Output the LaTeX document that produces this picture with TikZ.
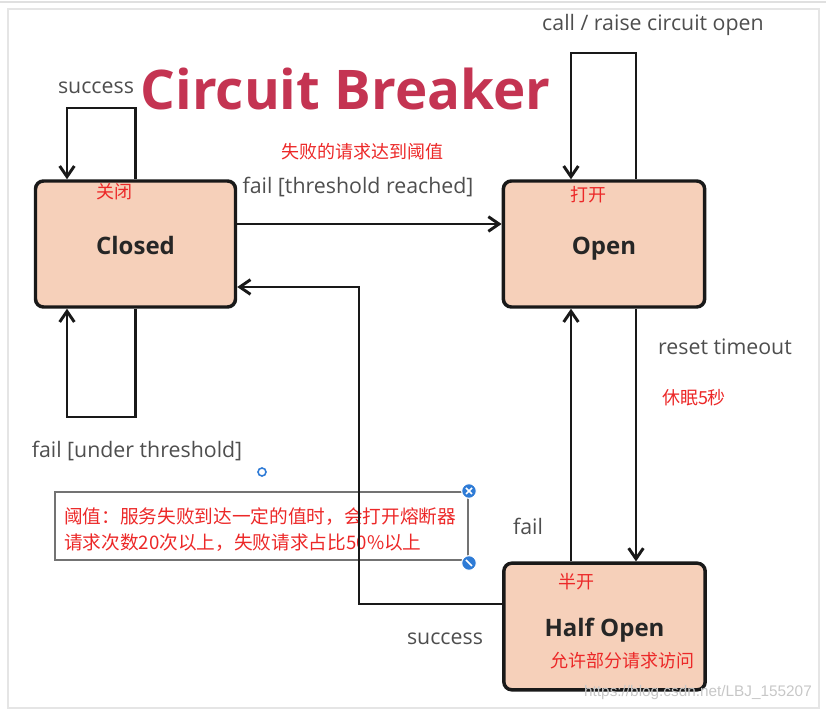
\documentclass[tikz,border=0pt]{standalone}
\usepackage{fontspec}
\setmainfont{Open Sans}
\newfontfamily\cjk{Noto Sans CJK SC}
\newfontfamily\wmfont{Liberation Sans}
\usetikzlibrary{arrows.meta}
\definecolor{peach}{RGB}{246,208,186}
\definecolor{titlered}{RGB}{196,52,82}
\definecolor{cnred}{RGB}{236,40,40}
\definecolor{labgray}{RGB}{78,78,78}
\definecolor{uiblue}{RGB}{46,123,214}
\tikzset{
  statebox/.style={draw=black!90, fill=peach, line width=2.6pt, rounded corners=6pt,
    minimum width=150pt, minimum height=94.5pt, inner sep=0pt, text height=15.5pt, text depth=0pt,
    font=\fontsize{18}{20}\selectfont\bfseries, text=black!85},
  conn/.style={line width=2.2pt, black!90},
  arr/.style={conn, -{Straight Barb[length=8pt,width=11pt]}},
  lab/.style={anchor=base, inner sep=0pt, text=labgray, font=\fontsize{16}{18}\selectfont},
  cnlab/.style={inner sep=0pt, text=cnred, font=\cjk\fontsize{13.5}{16}\selectfont},
}
\begin{document}
\begin{tikzpicture}[x=0.75pt,y=-0.75pt]
\useasboundingbox (0,0) rectangle (826,712);
% frame
\draw[line width=1.5pt, black!12] (0,2) -- (826,2);
\draw[line width=0.8pt, black!10] (8,9) rectangle (819,708);
% title
\node[anchor=base, inner sep=0pt, text=titlered, font=\fontsize{41}{44}\selectfont\bfseries] (title) at (345.5,110) {Circuit Breaker};
% note box
\node[draw=black!55, line width=1pt, minimum width=309.75pt, minimum height=51pt, inner sep=0pt] (note) at (261.5,526) {};
\node[anchor=west, inner sep=0pt, align=left, text=cnred, font=\cjk\fontsize{14}{19}\selectfont] (notetext) at (64,529.5)
  {阈值：服务失败到达一定的值时，会打开熔断器\\请求次数20次以上，失败请求占比50\%以上};
% states
\node[statebox] (closed) at (135.5,244) {Closed};
\node[statebox, minimum width=151pt] (open) at (604,244) {Open};
\node[statebox, minimum width=151pt, minimum height=95pt] (half) at (604.5,626.5) {Half Open};
% helper coordinates
\coordinate (lx) at (67,0);
\coordinate (ytop) at (0,108);
\coordinate (ybot) at (0,417);
\coordinate (y1) at (0,224);
\coordinate (xa) at (571,0);
\coordinate (xb) at (636,0);
\coordinate (ycall) at (0,53);
\coordinate (y3) at (0,604);
\coordinate (c1) at (359,287);
% connectors
\draw[arr] (closed.north) |- (lx |- ytop) -- (closed.north -| lx);
\draw[arr] (closed.south) |- (lx |- ybot) -- (closed.south -| lx);
\draw[arr] (closed.east |- y1) -- (open.west |- y1);
\draw[arr] (open.north -| xb) |- (xa |- ycall) -- (open.north -| xa);
\draw[arr] (open.south -| xb) -- (half.north -| xb);
\draw[arr] (half.north -| xa) -- (open.south -| xa);
\draw[arr] (half.west |- y3) -| (c1) -- (closed.east |- c1);
% labels
\node[lab] (l1) at (96,94) {success};
\node[lab] (l2) at (358,194) {fail [threshold reached]};
\node[lab] (l3) at (653,31) {call / raise circuit open};
\node[lab] (l4) at (725,355) {reset timeout};
\node[lab] (l5) at (137,458) {fail [under threshold]};
\node[lab] (l6) at (528,535) {fail};
\node[lab] (l7) at (445,645) {success};
% chinese labels
\node[cnlab] (c1l) at (362,152) {失败的请求达到阈值};
\node[cnlab] (c2l) at (114,192) {关闭};
\node[cnlab] (c3l) at (588,195) {打开};
\node[cnlab] (c4l) at (694,398) {休眠5秒};
\node[cnlab] (c5l) at (576,582) {半开};
\node[cnlab] (c6l) at (622,661) {允许部分请求访问};
% editor handles
\node[circle, fill=uiblue, draw=white, line width=0.8pt, minimum size=11pt, inner sep=0pt] (h1) at (469,491) {};
\draw[white, line width=1.1pt] ([shift={(-3,-3)}]h1.center) -- ([shift={(3,3)}]h1.center)
  ([shift={(-3,3)}]h1.center) -- ([shift={(3,-3)}]h1.center);
\node[circle, fill=uiblue, draw=white, line width=0.8pt, minimum size=11pt, inner sep=0pt] (h2) at (469,563) {};
\draw[white, line width=1.1pt] ([shift={(-3,-3)}]h2.center) -- ([shift={(3,3)}]h2.center);
\node[circle, draw=uiblue, line width=1.2pt, minimum size=6pt, inner sep=0pt] (h3) at (262,472) {};
% watermark
\node[anchor=base, inner sep=0pt, text=black!22, font=\wmfont\fontsize{11.5}{13}\selectfont] (wm) at (698,697) {https://blog.csdn.net/LBJ\_155207};
\end{tikzpicture}
\end{document}
